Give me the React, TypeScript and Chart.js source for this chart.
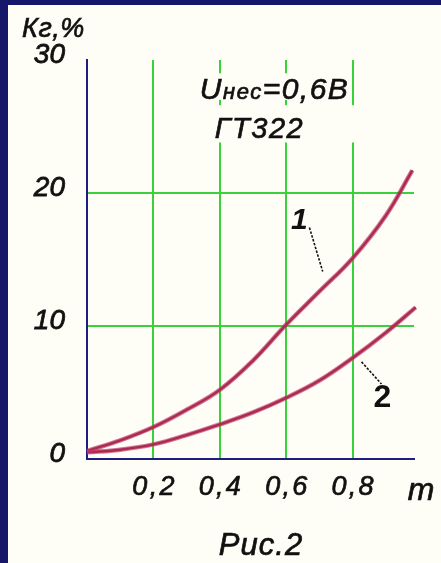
import React, { useEffect, useRef } from "react";
import { Chart, registerables } from "chart.js";

Chart.register(...registerables);

const xValues1 = [0, 0.1, 0.2, 0.3, 0.4, 0.5, 0.6, 0.7, 0.8, 0.9, 0.98];
const curve1 = [0.6, 1.4, 2.4, 3.7, 5.2, 7.4, 10.1, 12.6, 15.1, 18.3, 21.7];
const xValues2 = [0, 0.1, 0.2, 0.3, 0.4, 0.5, 0.6, 0.7, 0.8, 0.9, 0.99];
const curve2 = [0.5, 0.7, 1.1, 1.8, 2.6, 3.5, 4.6, 5.9, 7.6, 9.5, 11.4];

const xTickValues = [0.2, 0.4, 0.6, 0.8];
const xTickLabels = ["0,2", "0,4", "0,6", "0,8"];
const yTickValues = [0, 10, 20, 30];
const yTickLabels = ["0", "10", "20", "30"];
const yGridValues = [10, 20];

const FONT = '"Liberation Sans", Arial, sans-serif';
const GREEN = "#3ad23a";
const NAVY = "#1e1e7e";
const PANEL = "#fffef6";

function toPts(xs: number[], ys: number[]) {
  return xs.map((x, i) => ({ x, y: ys[i] }));
}

const decorPlugin = {
  id: "decor",
  beforeDraw(chart: any) {
    const ctx = chart.ctx;
    ctx.save();
    ctx.fillStyle = "#17176a";
    ctx.fillRect(0, 0, chart.width, chart.height);
    ctx.fillStyle = PANEL;
    ctx.fillRect(8, 5, chart.width - 8, chart.height - 5);
    ctx.restore();
  },
  afterDraw(chart: any) {
    const ctx = chart.ctx;
    const xs = chart.scales.x;
    const ys = chart.scales.y;
    const px = (v: number) => xs.getPixelForValue(v);
    const py = (v: number) => ys.getPixelForValue(v);
    ctx.save();
    const setLS = (s: string) => { try { (ctx as any).letterSpacing = s; } catch (e) {} };
    const txt = (s: string, x: number, y: number, sw = 0.7) => {
      ctx.fillText(s, x, y);
      if (sw > 0) {
        ctx.lineWidth = sw;
        ctx.strokeStyle = "#111";
        ctx.strokeText(s, x, y);
      }
    };

    // patches behind annotation text (hide gridlines there)
    ctx.fillStyle = PANEL;
    ctx.fillRect(px(0.38), py(29.0), px(0.64) - px(0.38), py(27.0) - py(29.0));
    ctx.fillRect(px(0.38), py(26.6), px(0.81) - px(0.38), py(23.8) - py(26.6));

    ctx.fillStyle = "#111";
    ctx.textBaseline = "alphabetic";
    ctx.textAlign = "left";

    // Uнес=0,6B
    setLS("1.5px");
    let x = px(0.34);
    const b1 = py(27.1);
    ctx.font = `italic 30px ${FONT}`;
    txt("U", x, b1);
    x += ctx.measureText("U").width;
    ctx.font = `italic 22px ${FONT}`;
    txt("нес", x, b1);
    x += ctx.measureText("нес").width;
    ctx.font = `italic 30px ${FONT}`;
    txt("=0,6B", x, b1);

    // ГТ322
    ctx.font = `italic 29px ${FONT}`;
    txt("ГТ322", px(0.385), py(24.1));

    // Кг,%
    setLS("0.5px");
    ctx.font = `italic 27px ${FONT}`;
    txt("Кг,%", 22, 37);

    // m
    ctx.textAlign = "center";
    ctx.textBaseline = "middle";
    setLS("0px");
    ctx.font = `italic 32px ${FONT}`;
    txt("m", xs.right + 7, ys.bottom + 32);

    // Рис.2
    setLS("1px");
    ctx.font = `italic 31px ${FONT}`;
    txt("Рис.2", 261, 546);

    // curve labels
    setLS("0px");
    ctx.font = `italic bold 30px ${FONT}`;
    txt("1", px(0.64), py(17.9), 0);
    ctx.font = `bold 32px ${FONT}`;
    txt("2", px(0.89), py(4.6), 0);

    // leader lines
    ctx.strokeStyle = "#111";
    ctx.lineWidth = 1.6;
    ctx.setLineDash([2.5, 1.5]);
    ctx.beginPath();
    ctx.moveTo(px(0.67), py(17.4));
    ctx.lineTo(px(0.71), py(14.1));
    ctx.moveTo(px(0.827), py(7.3));
    ctx.lineTo(px(0.887), py(5.64));
    ctx.stroke();
    ctx.restore();
  },
};

export default function App() {
  const ref = useRef<HTMLCanvasElement | null>(null);
  useEffect(() => {
    if (!ref.current) return;
    const haloStyle = {
      borderColor: "rgba(195, 55, 100, 0.7)",
      borderWidth: 4.5,
      pointRadius: 0,
      tension: 0.4,
      clip: false as any,
    };
    const coreStyle = {
      borderColor: "#6a0e2c",
      borderWidth: 2.4,
      pointRadius: 0,
      tension: 0.4,
      clip: false as any,
    };
    const chart = new Chart(ref.current, {
      type: "line",
      data: {
        datasets: [
          { label: "1h", data: toPts(xValues1, curve1), ...haloStyle },
          { label: "2h", data: toPts(xValues2, curve2), ...haloStyle },
          { label: "1", data: toPts(xValues1, curve1), ...coreStyle },
          { label: "2", data: toPts(xValues2, curve2), ...coreStyle },
        ],
      },
      options: {
        animation: false,
        responsive: false,
        devicePixelRatio: 1,
        layout: { padding: { left: 31, top: 60, right: 27, bottom: 64 } },
        plugins: { legend: { display: false }, tooltip: { enabled: false } },
        scales: {
          x: {
            type: "linear",
            min: 0,
            max: 0.985,
            afterBuildTicks: (s: any) => {
              s.ticks = xTickValues.map((value) => ({ value }));
            },
            afterFit: (s: any) => {
              s.height = 40;
            },
            ticks: {
              callback: (v: any) => {
                const i = xTickValues.findIndex((t) => Math.abs(t - Number(v)) < 1e-6);
                return i >= 0 ? xTickLabels[i].replace(",", "\u200A,\u200A") : "";
              },
              font: { family: FONT, size: 27, style: "italic" },
              color: "#111",
              textStrokeColor: "#111",
              textStrokeWidth: 0.7,
              padding: 12,
              maxRotation: 0,
              autoSkip: false,
            },
            grid: { color: GREEN, lineWidth: 2, drawTicks: false },
            border: { display: true, color: NAVY, width: 2 },
          },
          y: {
            type: "linear",
            min: 0,
            max: 30,
            afterBuildTicks: (s: any) => {
              s.ticks = yTickValues.map((value) => ({ value }));
            },
            afterFit: (s: any) => {
              s.width = 56;
            },
            ticks: {
              callback: (v: any) => {
                const i = yTickValues.indexOf(Number(v));
                return i >= 0 ? yTickLabels[i] : "";
              },
              font: { family: FONT, size: 28, style: "italic" },
              color: "#111",
              textStrokeColor: "#111",
              textStrokeWidth: 0.8,
              padding: 22,
              labelOffset: -5,
              autoSkip: false,
            },
            grid: {
              color: (c: any) => (yGridValues.includes(c.tick?.value) ? GREEN : "rgba(0,0,0,0)"),
              lineWidth: 2,
              drawTicks: false,
            },
            border: { display: true, color: NAVY, width: 2 },
          },
        },
      },
      plugins: [decorPlugin],
    });
    return () => chart.destroy();
  }, []);
  return (
    <div style={{ position: "fixed", left: 0, top: 0, width: 441, height: 563 }}>
      <canvas ref={ref} width={441} height={563} style={{ display: "block" }} />
    </div>
  );
}
